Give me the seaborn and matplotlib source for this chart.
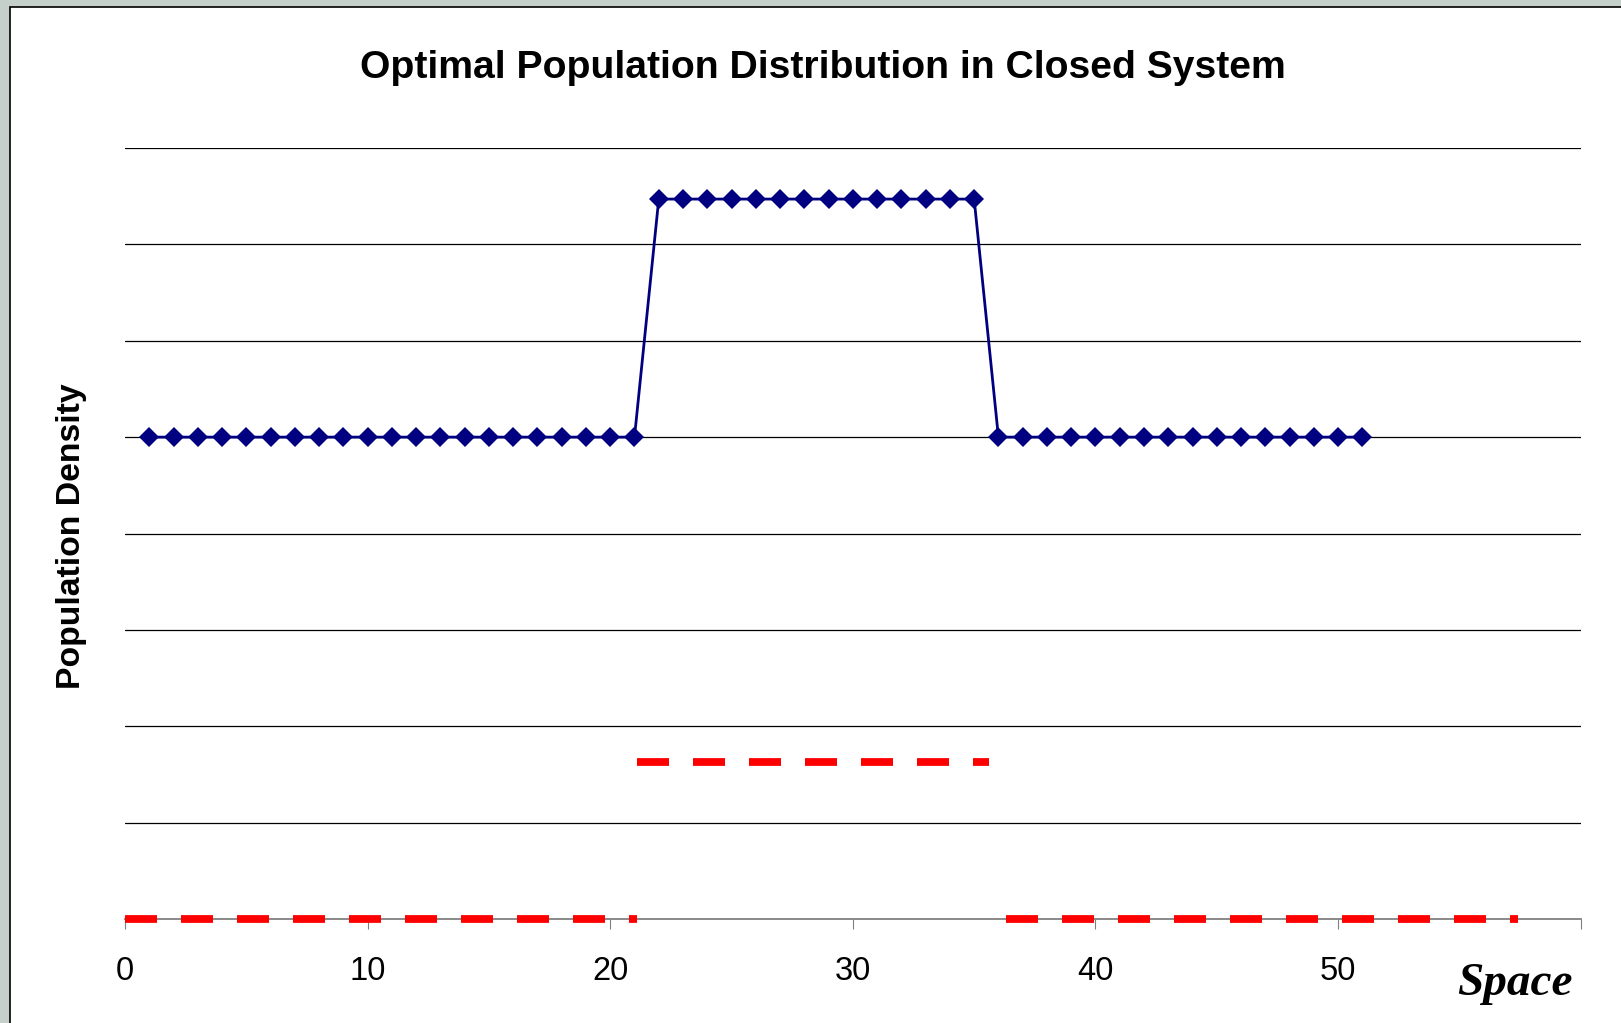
import matplotlib
matplotlib.use("Agg")
import matplotlib.pyplot as plt
from matplotlib.patches import Rectangle
import numpy as np
import pandas as pd
import seaborn as sns

# ---------------- data ----------------
space = list(range(1, 52))
density = [5.0] * 21 + [7.47] * 14 + [5.0] * 16

red_left_x = [0.0, 21.1]
red_left_y = [0.0, 0.0]
red_mid_x = [21.1, 35.6]
red_mid_y = [1.63, 1.63]
red_right_x = [36.3, 57.4]
red_right_y = [0.0, 0.0]

x_ticks = [0, 10, 20, 30, 40, 50, 60]
x_tick_labels = ["0", "10", "20", "30", "40", "50", ""]
y_grid = [1, 2, 3, 4, 5, 6, 7, 8]

title = "Optimal Population Distribution in Closed System"
y_label = "Population Density"
x_label = "Space"

# ---------------- style ----------------
sns.set_theme(style="white")
plt.rcParams["font.family"] = ["Liberation Sans", "DejaVu Sans"]
plt.rcParams["lines.scale_dashes"] = False

W, H, DPI = 1621, 1023, 100
fig = plt.figure(figsize=(W / DPI, H / DPI), dpi=DPI)
fig.patch.set_facecolor("#c6d0cb")

# chart frame (white panel with black border, running off right/bottom)
frame = Rectangle((10 / W, -0.05), 1.05, 1 - 7 / H + 0.05, transform=fig.transFigure,
                  facecolor="white", edgecolor="black", linewidth=1.2, zorder=-10)
fig.patches.append(frame)

left, right = 125 / W, 1580.7 / W
bottom, top = 1 - 919 / H, 1 - 148 / H
ax = fig.add_axes([left, bottom, right - left, top - bottom])
ax.set_zorder(1)
ax.set_facecolor("none")

# gridlines
for g in y_grid:
    ax.axhline(g, color="black", linewidth=0.9, zorder=1)

# blue series
df = pd.DataFrame({"Space": space, "Density": density})
sns.lineplot(data=df, x="Space", y="Density", ax=ax, color="#000080",
             linewidth=2.0, marker="D", markersize=10, markeredgewidth=0,
             zorder=4)

# red dashed segments
dash = (0, (23.04, 17.28))
for xs, ys in [(red_left_x, red_left_y), (red_mid_x, red_mid_y), (red_right_x, red_right_y)]:
    sns.lineplot(x=xs, y=ys, ax=ax, color="#ff0000", linewidth=5.6,
                 linestyle=dash, zorder=3, clip_on=False)

ax.set_xlim(0, 60)
ax.set_ylim(0, 8)
ax.set_xticks(x_ticks)
ax.set_xticklabels(x_tick_labels, fontsize=23.5, color="black")
ax.set_yticks([])
ax.tick_params(axis="x", direction="out", length=7.5, width=0.8, color="#808080",
               pad=19, bottom=True, labelcolor="black")
for s in ["left", "top", "right"]:
    ax.spines[s].set_visible(False)
ax.spines["bottom"].set_color("#808080")
ax.spines["bottom"].set_linewidth(1.3)
ax.set_xlabel("")
ax.set_ylabel("")

# texts
fig.text(823 / W, 1 - 68 / H, title, ha="center", va="center",
         fontsize=28.2, fontweight="bold", color="black")
fig.text(72 / W, 1 - 536 / H, y_label, ha="center", va="center", rotation=90,
         fontsize=24.3, fontweight="bold", color="black")
fig.text(1573 / W, 1 - 995 / H, x_label, ha="right", va="baseline",
         fontsize=34, fontweight="bold", fontstyle="italic",
         family=["Liberation Serif", "DejaVu Serif"], color="black")

fig.savefig("out.png", dpi=DPI, facecolor=fig.get_facecolor())
